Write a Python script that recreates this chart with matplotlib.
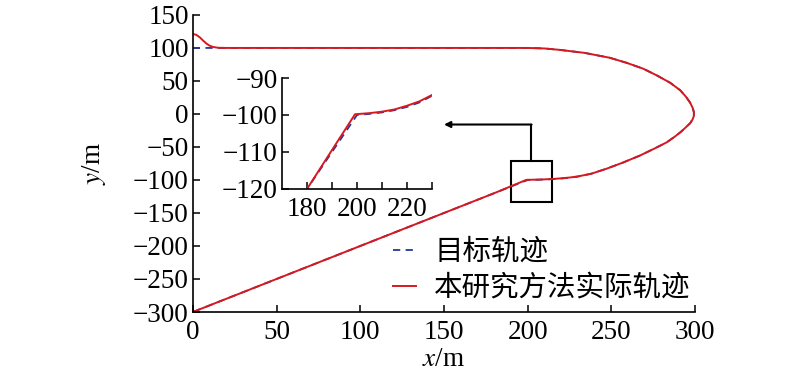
import matplotlib.pyplot as plt
from matplotlib.patches import Rectangle

plt.rcParams['font.family'] = ['Liberation Serif']
plt.rcParams['mathtext.fontset'] = 'stix'

# target trajectory
target_x = [0, 200, 210, 219, 234, 249, 259, 269, 277, 285, 291, 294.5, 297, 298.5,
            299.2, 299.2, 298.5, 297, 294.5, 291.5, 288, 283, 276, 267, 257, 247, 238,
            230, 225, 220, 215, 210, 205, 200, 190, 180, 0]
target_y = [100, 100, 99.2, 97.1, 92.5, 85.1, 77.5, 68.5, 58.5, 47.3, 36, 26, 17, 9,
            3, -3, -8, -14, -20, -27, -34, -43, -52, -63, -73.5, -83, -90.5,
            -94.8, -96.6, -97.8, -98.7, -99.3, -99.7, -100, -110, -120, -300]

# actual trajectory of the proposed method
actual_x = [0, 2, 4.2, 6, 8.2, 10, 12, 15, 20, 200, 210, 219, 234, 249, 259, 269, 277,
            285, 291, 294.5, 297, 298.5, 299.2, 299.2, 298.5, 297, 294.5, 291.5, 288,
            283, 276, 267, 257, 247, 238, 230, 225, 220, 215, 210, 205, 199.2, 189.5,
            180, 0]
actual_y = [121, 120, 116, 111.5, 106.5, 103.5, 101.5, 100.3, 100, 100, 99.2, 97.1,
            92.5, 85.1, 77.5, 68.5, 58.5, 47.3, 36, 26, 17, 9, 3, -3, -8, -14, -20,
            -27, -34, -43, -52, -63, -73.5, -83, -90.5, -94.6, -96.3, -97.5, -98.5,
            -99.1, -99.5, -99.8, -110, -120, -300]

labels = ['目标轨迹', '本研究方法实际轨迹']
red = '#d7191f'
blue = '#23389a'
fs = 19.5

fig = plt.figure(figsize=(8, 3.77), dpi=100)
ax = fig.add_axes([0.241, 0.1724, 0.628, 0.788])

ax.plot(target_x, target_y, color=blue, lw=1.3, dashes=(4, 3), label=labels[0])
ax.plot(actual_x, actual_y, color=red, lw=1.4, label=labels[1])

ax.set_xlim(0, 300)
ax.set_ylim(-300, 150)
ax.set_xticks(range(0, 301, 50))
ax.set_yticks(range(-300, 151, 50))
for s in ['top', 'right']:
    ax.spines[s].set_visible(False)
for s in ['left', 'bottom']:
    ax.spines[s].set_linewidth(1.2)
ax.tick_params(direction='in', length=5, width=1.1, labelsize=fs, pad=3)
ax.tick_params(axis='x', pad=6)
ax.set_xlabel('$x$/m', fontsize=fs, labelpad=1)
ax.set_ylabel('$y$/m', fontsize=fs, labelpad=18)

# zoom box and connector arrow
ax.add_patch(Rectangle((189.8, -133.3), 24.5, 62.2, fill=False, lw=1.5, ec='k'))
ax.plot([202, 202], [-71.1, -16], color='k', lw=1.5)
ax.annotate('', xy=(150, -16), xytext=(202.3, -16),
            arrowprops=dict(arrowstyle='-|>', mutation_scale=9, lw=1.5, color='k',
                            shrinkA=0, shrinkB=0))

leg = ax.legend(loc='upper left', bbox_to_anchor=(393 / 800, 1 - 237 / 377),
                bbox_transform=fig.transFigure, frameon=False, borderpad=0,
                borderaxespad=0, handlelength=0.8, handletextpad=0.65,
                labelspacing=0.2, prop={'family': ['Noto Sans CJK SC'], 'size': 20.5})

# inset
axi = fig.add_axes([0.3525, 0.4987, 0.1875, 0.2944])
axi.plot(target_x, target_y, color=blue, lw=1.3, dashes=(4, 3))
axi.plot(actual_x, actual_y, color=red, lw=1.4)
axi.set_xlim(170, 230)
axi.set_ylim(-120, -90)
axi.set_xticks([180, 200, 220])
axi.set_xticks([190, 210, 230], minor=True)
axi.set_yticks([-120, -110, -100, -90])
for s in ['top', 'right']:
    axi.spines[s].set_visible(False)
for s in ['left', 'bottom']:
    axi.spines[s].set_linewidth(1.2)
axi.tick_params(which='both', direction='in', length=5, width=1.1, labelsize=fs, pad=3)
axi.tick_params(axis='x', which='both', pad=6)
axi.patch.set_alpha(0)

fig.savefig('out.png', dpi=100)
